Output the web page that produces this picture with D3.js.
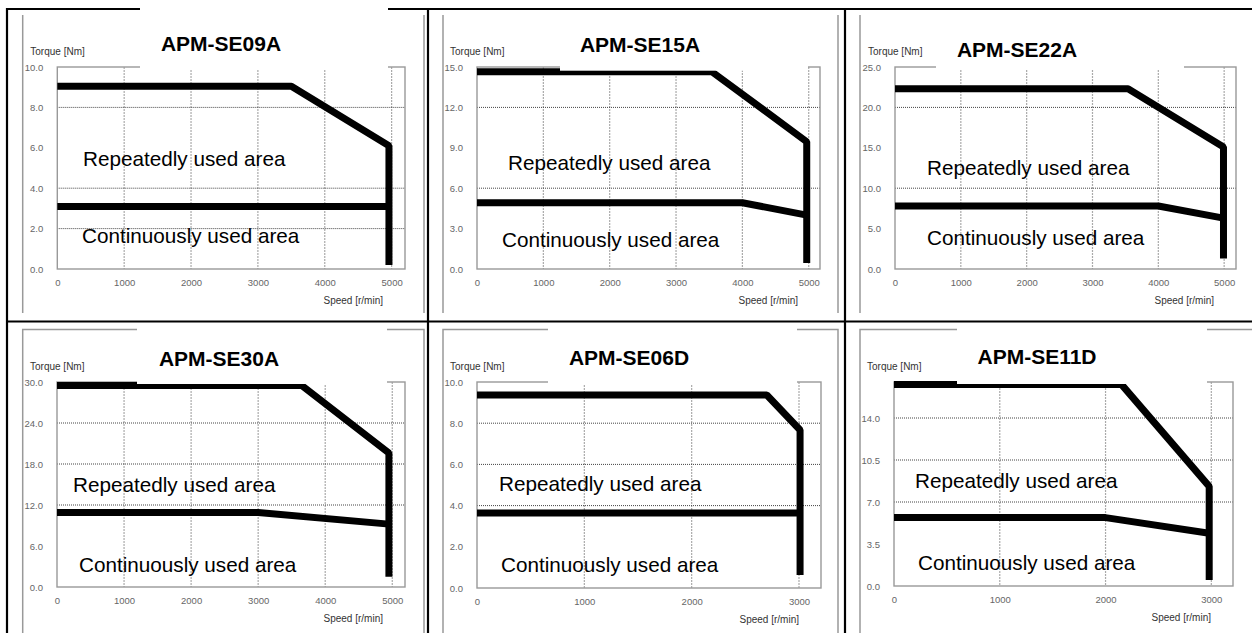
<!DOCTYPE html>
<html>
<head>
<meta charset="utf-8">
<script src="https://cdn.jsdelivr.net/npm/d3@7"></script>
<style>
  body { margin: 0; background: #fff; }
  svg { display: block; font-family: "Liberation Sans", Arial, sans-serif; }
</style>
</head>
<body>
<svg id="chart" width="1252" height="633"></svg>
<script>
const width = 1252;
const height = 633;
const svg = d3.select('#chart');

const models = ['APM-SE09A', 'APM-SE15A', 'APM-SE22A', 'APM-SE30A', 'APM-SE06D', 'APM-SE11D'];

const speedTicks = [
  [0, 1000, 2000, 3000, 4000, 5000],
  [0, 1000, 2000, 3000, 4000, 5000],
  [0, 1000, 2000, 3000, 4000, 5000],
  [0, 1000, 2000, 3000, 4000, 5000],
  [0, 1000, 2000, 3000],
  [0, 1000, 2000, 3000]
];
const speedMax = [5200, 5170, 5180, 5190, 3205, 3205];

const torqueTicks = [
  [0, 2, 4, 6, 8, 10],
  [0, 3, 6, 9, 12, 15],
  [0, 5, 10, 15, 20, 25],
  [0, 6, 12, 18, 24, 30],
  [0, 2, 4, 6, 8, 10],
  [0, 3.5, 7, 10.5, 14]
];
const torqueMax = [10, 15, 25, 30, 10, 17];
// dotted horizontal gridlines that the source actually shows
const torqueGrid = [
  [2, 4, 8],
  [6, 12],
  [10, 20],
  [12, 18, 24],
  [4, 6, 8],
  [7, 10.5, 14]
];

// [speed r/min, torque Nm]
const repeatedArea = [
  [[0, 9.05], [3500, 9.05], [4960, 6.1], [4960, 0.2]],
  [[0, 14.65], [3540, 14.65], [4970, 9.45], [4970, 0.45]],
  [[0, 22.3], [3540, 22.3], [4990, 15.1], [4990, 1.3]],
  [[0, 29.5], [3650, 29.5], [4950, 19.6], [4950, 1.5]],
  [[0, 9.37], [2700, 9.37], [3010, 7.67], [3010, 0.63]],
  [[0, 16.8], [2150, 16.8], [2980, 8.3], [2980, 0.5]]
];
const continuousArea = [
  [[0, 3.1], [4960, 3.1]],
  [[0, 4.92], [4000, 4.92], [4970, 4.0]],
  [[0, 7.8], [4000, 7.8], [4990, 6.3]],
  [[0, 10.9], [3000, 10.9], [4950, 9.2]],
  [[0, 3.64], [3010, 3.64]],
  [[0, 5.7], [2000, 5.7], [2980, 4.4]]
];

// Page layout (pixel boxes of each pasted chart)
const layout = [
  { l: 57.3, r: 405, t: 67, b: 269, title: [221, 51], box: [140, 3, 248, 66], rep: [83, 166], con: [82, 243] },
  { l: 477, r: 820, t: 67, b: 269, title: [640, 52], box: [560, 12, 248, 58.7], rep: [508, 170], con: [502, 247] },
  { l: 895, r: 1236, t: 67, b: 269, title: [1017, 57], box: [936, 12, 248, 57], rep: [927, 175], con: [927, 245] },
  { l: 57, r: 405, t: 382, b: 587, title: [219, 366], box: [137, 325, 250, 59], rep: [73, 492], con: [79, 572] },
  { l: 477, r: 821, t: 382, b: 588, title: [629, 365], box: [548, 325, 249, 59], rep: [499, 491], con: [501, 572] },
  { l: 894, r: 1233, t: 382, b: 586, title: [1037, 364], box: [957, 325, 250, 59], rep: [915, 488], con: [918, 570] }
];

// grey frames of the pasted pictures
const frames = svg.append('g').attr('stroke', '#999').attr('stroke-width', 1.5).attr('fill', 'none');
[22.7, 443, 860].forEach(x => frames.append('line').attr('x1', x).attr('x2', x).attr('y1', 15).attr('y2', 313));
[424, 838].forEach(x => frames.append('line').attr('x1', x).attr('x2', x).attr('y1', 15).attr('y2', 313));
[[22.7, 424], [443, 838], [860, 1260]].forEach(([a, c]) => {
  frames.append('path').attr('d', c > width ? `M${a},633V329.5H${c}` : `M${a},633V329.5H${c}V633`);
});

// table borders
const table = svg.append('g').attr('stroke', '#000').attr('stroke-width', 2.2);
[7, 428, 845].forEach(x => table.append('line').attr('x1', x).attr('x2', x).attr('y1', 8).attr('y2', height));
[9, 321.5].forEach(y => table.append('line').attr('x1', 6).attr('x2', width).attr('y1', y).attr('y2', y));

models.forEach((name, i) => {
  const L = layout[i];
  const x = d3.scaleLinear().domain([0, speedMax[i]]).range([L.l, L.r]);
  const y = d3.scaleLinear().domain([0, torqueMax[i]]).range([L.b, L.t]);
  const g = svg.append('g');

  // vertical gridlines
  g.selectAll('line.vgrid')
    .data(speedTicks[i].filter(d => d > 0))
    .enter().append('line')
    .attr('x1', d => x(d)).attr('x2', d => x(d))
    .attr('y1', L.t).attr('y2', L.b)
    .attr('stroke', '#aaa').attr('stroke-width', 1.2)
    .attr('stroke-dasharray', '2,1');

  // horizontal gridlines
  g.selectAll('line.hgrid')
    .data(torqueGrid[i])
    .enter().append('line')
    .attr('x1', L.l).attr('x2', L.r)
    .attr('y1', d => y(d)).attr('y2', d => y(d))
    .attr('stroke', '#444').attr('stroke-width', 1)
    .attr('stroke-dasharray', '1,1');

  // plot frame
  g.append('rect')
    .attr('x', L.l).attr('y', L.t)
    .attr('width', L.r - L.l).attr('height', L.b - L.t)
    .attr('fill', 'none').attr('stroke', '#999').attr('stroke-width', 1.4);

  const line = d3.line().x(d => x(d[0])).y(d => y(d[1]));

  [repeatedArea[i], continuousArea[i]].forEach(series => {
    g.append('path')
      .attr('d', line(series))
      .attr('fill', 'none')
      .attr('stroke', '#000')
      .attr('stroke-width', 7)
      .attr('stroke-linejoin', 'bevel');
  });

  // white title box of the source covers part of the frame
  g.append('rect')
    .attr('x', L.box[0]).attr('y', L.box[1])
    .attr('width', L.box[2]).attr('height', L.box[3])
    .attr('fill', '#fff');

  g.append('text')
    .attr('x', L.title[0]).attr('y', L.title[1])
    .attr('text-anchor', 'middle')
    .attr('font-size', 21).attr('font-weight', 'bold')
    .text(name);

  // axes
  const yAxis = g.append('g')
    .attr('transform', `translate(${L.l},0)`)
    .call(d3.axisLeft(y).tickValues(torqueTicks[i]).tickSize(0).tickPadding(14).tickFormat(d3.format('.1f')));
  const xAxis = g.append('g')
    .attr('transform', `translate(0,${L.b})`)
    .call(d3.axisBottom(x).tickValues(speedTicks[i]).tickSize(0).tickPadding(10).tickFormat(d3.format('d')));
  [yAxis, xAxis].forEach(a => {
    a.select('.domain').remove();
    a.selectAll('text')
      .attr('fill', '#666')
      .attr('font-size', 9.5)
      .attr('font-family', '"Liberation Sans", Arial, sans-serif');
  });

  g.append('text')
    .attr('x', L.l - 27).attr('y', L.t - 12)
    .attr('font-size', 10).attr('fill', '#333')
    .text('Torque [Nm]');
  g.append('text')
    .attr('x', L.r - 22).attr('y', L.b + 35)
    .attr('text-anchor', 'end')
    .attr('font-size', 10).attr('fill', '#333')
    .text('Speed [r/min]');

  g.append('text')
    .attr('x', L.rep[0]).attr('y', L.rep[1])
    .attr('font-size', 20.7)
    .text('Repeatedly used area');
  g.append('text')
    .attr('x', L.con[0]).attr('y', L.con[1])
    .attr('font-size', 20.7)
    .text('Continuously used area');
});
</script>
</body>
</html>
